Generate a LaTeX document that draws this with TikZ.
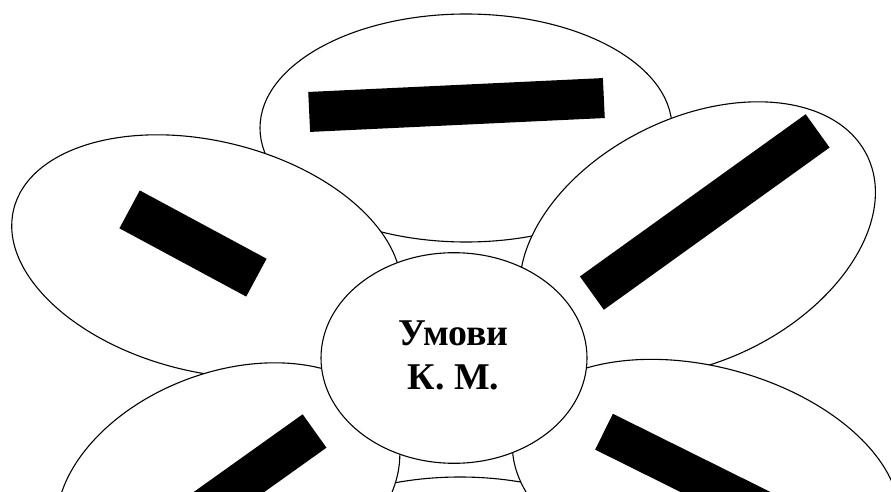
\documentclass[tikz,border=0pt]{standalone}
\usepackage{fontspec}
\setmainfont{Liberation Serif}
\usetikzlibrary{shapes.geometric}
\begin{document}
\begin{tikzpicture}[x=1pt,y=1pt,
  petal/.style={draw=black, fill=white, line width=1.1pt},
  blackbar/.style={fill=black, draw=none, inner sep=0pt, outer sep=0pt}]
\useasboundingbox (0,0) rectangle (891,491);
\clip (0,0) rectangle (891,491);
\fill[white] (0,0) rectangle (891,491);
% bottom petal
\draw[petal] (460,-100) ellipse [x radius=206, y radius=114];
% top petal
\draw[petal] (466,363) ellipse [x radius=206, y radius=114];
\node[blackbar, minimum width=295pt, minimum height=40pt, rotate=2.7] (bartop) at (456.5,386) {};
% upper-left petal
\draw[petal, rotate around={-13.7:(206.5,234.6)}] (206.5,234.6) ellipse [x radius=198.5, y radius=115.4];
\node[blackbar, minimum width=144pt, minimum height=43pt, rotate=-28.3] (barul) at (193,247.5) {};
% upper-right petal
\draw[petal, rotate around={26.3:(697.6,251.8)}] (697.6,251.8) ellipse [x radius=189, y radius=121.5];
\node[blackbar, minimum width=278pt, minimum height=41pt, rotate=35.7] (barur) at (704.75,279) {};
% lower-left petal
\draw[petal, rotate around={20.5:(228.1,2.1)}] (228.1,2.1) ellipse [x radius=178, y radius=117];
\node[blackbar, minimum width=278pt, minimum height=41pt, rotate=35.5] (barll) at (201.4,-20.7) {};
% lower-right petal
\draw[petal, rotate around={-15.2:(705.9,10)}] (705.9,10) ellipse [x radius=198, y radius=114];
\node[blackbar, minimum width=278pt, minimum height=40pt, rotate=-26.4] (barlr) at (728.5,-2.5) {};
% centre
\node[petal, ellipse, inner sep=0pt, minimum width=266pt, minimum height=210.6pt] (core) at (454,133) {};
\node[font=\fontsize{37.8}{43.5}\selectfont\bfseries, align=center, inner sep=0pt] (title) at (453.5,135.5) {Умови\\К. М.};
\end{tikzpicture}
\end{document}
